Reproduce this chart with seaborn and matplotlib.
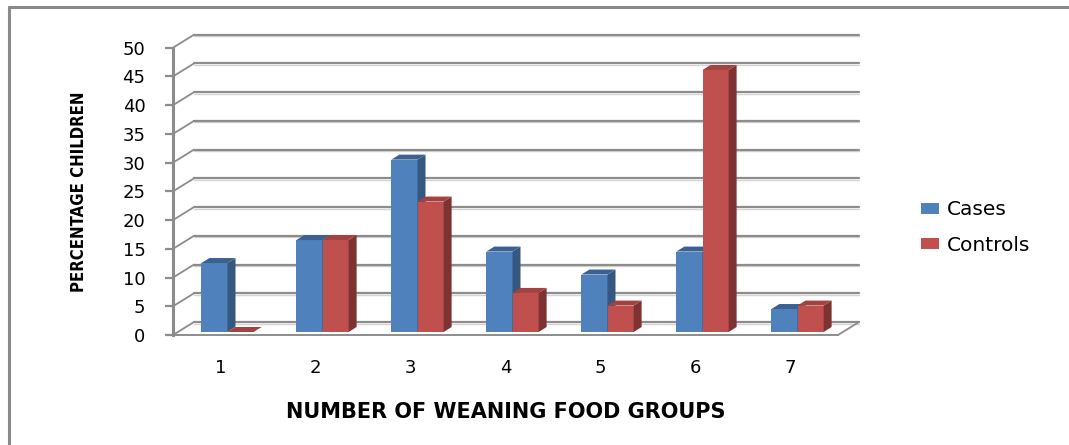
import matplotlib
matplotlib.use("Agg")
import matplotlib.pyplot as plt
from matplotlib.patches import Polygon
from matplotlib.lines import Line2D
import numpy as np
import pandas as pd
import seaborn as sns

# ---- data -------------------------------------------------------------
groups = ["1", "2", "3", "4", "5", "6", "7"]
cases = [12, 16, 30, 14, 10, 14, 4]
controls = [0, 16, 22.7, 6.8, 4.6, 45.6, 4.6]
series_names = ["Cases", "Controls"]
y_ticks = [0, 5, 10, 15, 20, 25, 30, 35, 40, 45, 50]

df = pd.DataFrame({
    "group": groups * 2,
    "pct": cases + controls,
    "series": [series_names[0]] * len(groups) + [series_names[1]] * len(groups),
})

# ---- style ------------------------------------------------------------
sns.set_style("white")
plt.rcParams["font.family"] = ["DejaVu Sans"]
plt.rcParams["text.color"] = "black"
plt.rcParams["axes.labelcolor"] = "black"

BLUE, BLUE_SIDE, BLUE_TOP = "#4F81BD", "#36577F", "#3B6192"
RED, RED_SIDE, RED_TOP = "#C0504D", "#7D3331", "#A3423F"
GRID = "#8C8C8C"
GRID_SOFT = "#D4D4D4"

W, H = 1069, 445
fig = plt.figure(figsize=(W / 100, H / 100), dpi=100)

# front plane of the chart: x 173..838 px, value 0 at y=335 px, 50 at y=47.7 px
ax_l, ax_r, ax_b, ax_t = 173, 838, 335, 47.7
ax = fig.add_axes([ax_l / W, (H - ax_b) / H, (ax_r - ax_l) / W, (ax_b - ax_t) / H])

sns.barplot(data=df, x="group", y="pct", hue="series", order=groups,
            hue_order=series_names, palette=[BLUE, RED], saturation=1,
            width=0.55, ax=ax, zorder=3, linewidth=0)

ax.set_xlim(-0.5, len(groups) - 0.5)
ax.set_ylim(0, 50)

# pixel -> data conversion
px_x = (ax_r - ax_l) / len(groups)
px_y = (ax_b - ax_t) / 50.0

def dx(px):
    return px / px_x

def dy(px):
    return px / px_y

# back wall / floor geometry (depth of the box)
back_dx, back_dy = dx(21), dy(13)
x0, x1 = -0.5, len(groups) - 0.5

for v in y_ticks:
    # back wall gridline
    ax.add_line(Line2D([x0 + back_dx, x1 + back_dx], [v + back_dy - dy(1.6)] * 2,
                       color=GRID_SOFT, lw=1.0, zorder=1, clip_on=False))
    ax.add_line(Line2D([x0 + back_dx, x1 + back_dx], [v + back_dy] * 2,
                       color=GRID, lw=1.6, zorder=1.1, clip_on=False))
    # side wall diagonal
    ax.add_line(Line2D([x0, x0 + back_dx], [v, v + back_dy],
                       color=GRID, lw=1.3, zorder=1.1, clip_on=False))

# floor right edge
ax.add_line(Line2D([x1, x1 + back_dx], [0, back_dy], color=GRID, lw=1.3,
                   zorder=1.1, clip_on=False))

# ---- 3D bars: shift front faces onto the bar plane, add side and top ----
bar_dx, bar_dy = dx(7), dy(3)
depth_x, depth_y = dx(8), dy(5)

front_cols = {matplotlib.colors.to_hex(BLUE): (BLUE_SIDE, BLUE_TOP, 3.0),
              matplotlib.colors.to_hex(RED): (RED_SIDE, RED_TOP, 3.4)}

for p in list(ax.patches):
    fc = matplotlib.colors.to_hex(p.get_facecolor())
    if fc not in front_cols:
        continue
    side_c, top_c, z = front_cols[fc]
    p.set_x(p.get_x() + bar_dx)
    p.set_y(p.get_y() + bar_dy)
    p.set_zorder(z)
    p.set_clip_on(False)
    x, y, w, h = p.get_x(), p.get_y(), p.get_width(), p.get_height()
    side = Polygon([(x + w, y), (x + w + depth_x, y + depth_y),
                    (x + w + depth_x, y + h + depth_y), (x + w, y + h)],
                   closed=True, facecolor=side_c, edgecolor="none",
                   zorder=z + 0.1, clip_on=False)
    top = Polygon([(x, y + h), (x + w, y + h), (x + w + depth_x, y + h + depth_y),
                   (x + depth_x, y + h + depth_y)],
                  closed=True, facecolor=top_c, edgecolor="none",
                  zorder=z + 0.1, clip_on=False)
    ax.add_patch(side)
    ax.add_patch(top)

# ---- axes styling -----------------------------------------------------
for s in ["top", "right"]:
    ax.spines[s].set_visible(False)
ax.spines["left"].set_color(GRID)
ax.spines["left"].set_linewidth(2.2)
ax.spines["bottom"].set_color(GRID)
ax.spines["bottom"].set_linewidth(1.4)
ax.spines["left"].set_zorder(5)

ax.set_yticks(y_ticks)
ax.set_yticklabels([str(v) for v in y_ticks])
ax.tick_params(axis="y", length=5.8, width=1.6, color=GRID, pad=14,
               labelsize=13, labelcolor="black", left=True)
ax.tick_params(axis="x", length=0, pad=17, labelsize=13, labelcolor="black")

ax.set_xlabel("NUMBER OF WEANING FOOD GROUPS", fontsize=15, fontweight="bold")
ax.xaxis.set_label_coords(0.5, -0.232)
ax.set_ylabel("PERCENTAGE CHILDREN", fontsize=12, fontweight="bold",
              fontstretch="condensed")
ax.yaxis.set_label_coords(-0.128, 0.497)

# legend
handles, labels = ax.get_legend_handles_labels()
ax.legend(handles, labels, loc="center left",
          bbox_to_anchor=(921 / W, 1 - 227.5 / H), bbox_transform=fig.transFigure,
          frameon=False, fontsize=14.5, handlelength=0.9, handleheight=0.5,
          handletextpad=0.4, labelspacing=0.8, borderpad=0, borderaxespad=0)

# outer frame (left and top edges)
fig.add_artist(Line2D([9 / W, 9 / W], [0, 1 - 7 / H], transform=fig.transFigure,
                      color="#8A8A8A", lw=2.2))
fig.add_artist(Line2D([9 / W, 1], [1 - 7 / H, 1 - 7 / H], transform=fig.transFigure,
                      color="#8A8A8A", lw=2.2))

fig.savefig("out.png", dpi=100)
